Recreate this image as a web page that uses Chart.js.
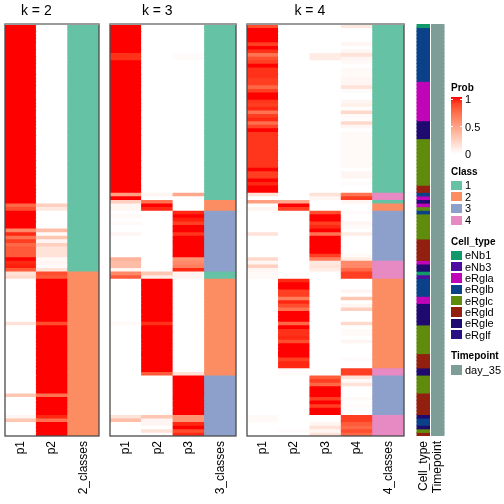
<!DOCTYPE html>
<html><head><meta charset="utf-8">
<script src="https://cdn.jsdelivr.net/npm/chart.js@4.4.1/dist/chart.umd.min.js"></script>
<style>
body{margin:0;background:#fff;width:504px;height:504px;overflow:hidden;position:relative;font-family:"Liberation Sans",Arial,Helvetica,sans-serif;}
canvas{position:absolute;top:0;}
.lt{position:absolute;font-size:10px;font-weight:bold;line-height:12px;color:#000;white-space:nowrap}
.lg{position:absolute;font-size:11px;line-height:12px;color:#000;white-space:nowrap}
.bx{position:absolute;width:11px}
</style></head><body>
<canvas id="c1" width="105" height="504" style="left:0"></canvas>
<canvas id="c2" width="137" height="504" style="left:105px"></canvas>
<canvas id="c3" width="168" height="504" style="left:242px"></canvas>
<canvas id="c4" width="44" height="504" style="left:410px"></canvas>
<div id="legend"></div>
<script>
// ---------- data (115 samples, top to bottom) ----------
const k2_labels = ['p1','p2','2_classes'];
const k3_labels = ['p1','p2','p3','3_classes'];
const k4_labels = ['p1','p2','p3','p4','4_classes'];
const annot_labels = ['Cell_type','Timepoint'];

const k2_p1 = [
1,1,1,1,1,1,1,1,1,1,
1,1,1,1,1,1,1,1,1,1,
1,1,1,1,1,1,1,1,1,1,
1,1,1,1,1,1,1,1,1,1,
1,1,1,1,1,1,1,1,1,1,
0.75,0.85,1,1,1,1,1,0.6,0.95,0.7,
0.9,0.75,0.8,0.8,0.8,1,0.95,0.97,0.8,0.15,
0.2,0,0,0,0,0,0,0,0,0,
0,0,0,0.15,0,0,0,0,0,0,
0,0,0,0,0,0,0,0,0,0,
0,0,0,0.3,0,0,0,0,0,0.05,
0.3,0,0,0,0];
const k2_p2 = [
0,0,0,0,0,0,0,0,0,0,
0,0,0,0,0,0,0,0,0,0,
0,0,0,0,0,0,0,0,0,0,
0,0,0,0,0,0,0,0,0,0,
0,0,0,0,0,0,0,0,0,0,
0.25,0.12,0,0,0,0,0,0.35,0.02,0.3,
0.05,0.25,0.15,0.15,0.15,0.03,0.05,0.02,0.15,0.85,
0.8,1,1,1,1,1,1,1,1,1,
1,1,1,0.85,1,1,1,1,1,1,
1,1,1,1,1,1,1,1,1,1,
1,1,1,0.7,1,1,1,1,1,0.95,
0.7,1,1,1,1];
const k2_class = [
1,1,1,1,1,1,1,1,1,1,
1,1,1,1,1,1,1,1,1,1,
1,1,1,1,1,1,1,1,1,1,
1,1,1,1,1,1,1,1,1,1,
1,1,1,1,1,1,1,1,1,1,
1,1,1,1,1,1,1,1,1,1,
1,1,1,1,1,1,1,1,1,2,
2,2,2,2,2,2,2,2,2,2,
2,2,2,2,2,2,2,2,2,2,
2,2,2,2,2,2,2,2,2,2,
2,2,2,2,2,2,2,2,2,2,
2,2,2,2,2];

const k3_p1 = [
1,1,1,1,1,1,1,1,0.93,0.93,
1,1,1,1,1,1,1,1,1,1,
1,1,1,1,1,1,1,1,1,1,
1,1,1,1,1,1,1,1,1,1,
1,1,1,1,1,1,1,0.5,1,0.25,
0.05,0.05,0,0.03,0,0.03,0,0,0.05,0,
0,0,0,0,0,0.4,0.35,0.35,0.05,0.6,
0.8,0,0,0,0,0,0,0,0,0,
0,0,0,0.03,0,0,0,0,0,0,
0,0,0,0,0,0,0,0,0,0,
0,0,0,0,0,0,0,0,0,0.15,
0.35,0,0,0,0];
const k3_p2 = [
0,0,0,0,0,0,0,0,0,0,
0,0,0,0,0,0,0,0,0,0,
0,0,0,0,0,0,0,0,0,0,
0,0,0,0,0,0,0,0,0,0,
0,0,0,0,0,0,0,0.05,0,0.7,
1,0.95,0,0,0,0,0,0,0,0,
0,0,0,0,0,0,0,0,0,0.3,
0.1,1,1,1,1,1,1,1,1,1,
1,1,1,0.93,1,1,1,1,1,1,
1,1,1,1,1,1,1,0.8,0,0,
0,0,0,0,0,0,0,0,0,0.3,
0.05,0.05,0,0.15,0];
const k3_p3 = [
0,0,0,0,0,0,0,0,0.02,0.02,
0,0,0,0,0,0,0,0,0,0,
0,0,0,0,0,0,0,0,0,0,
0,0,0,0,0,0,0,0,0,0,
0,0,0,0,0,0,0,0.45,0,0,
0,0,0.95,1,0.97,0.9,1,1,0.92,1,
1,1,1,1,1,0.55,0.6,0.65,0.95,0.05,
0.05,0,0,0,0,0,0,0,0,0,
0,0,0,0,0,0,0,0,0,0,
0,0,0,0,0,0,0,0.15,1,1,
1,1,1,1,1,1,1,1,1,0.55,
0.55,0.95,1,0.85,0.95];
const k3_class = [
1,1,1,1,1,1,1,1,1,1,
1,1,1,1,1,1,1,1,1,1,
1,1,1,1,1,1,1,1,1,1,
1,1,1,1,1,1,1,1,1,1,
1,1,1,1,1,1,1,1,1,2,
2,2,3,3,3,3,3,3,3,3,
3,3,3,3,3,3,3,3,3,1,
1,2,2,2,2,2,2,2,2,2,
2,2,2,2,2,2,2,2,2,2,
2,2,2,2,2,2,2,2,3,3,
3,3,3,3,3,3,3,3,3,3,
3,3,3,3,3];

const k4_p1 = [
0.85,1,1,1,1,0.9,1,0.93,0.7,0.85,
0.9,1,0.93,0.93,0.93,0.9,0.9,0.75,0.9,1,
1,0.92,0.9,0.95,0.7,0.9,0.95,0.72,0.88,1,
0.92,0.92,0.92,0.92,0.92,0.92,0.92,0.92,0.92,0.92,
1,0.9,0.9,1,0.95,1,1,0.15,0,0.5,
0,0.05,0,0,0,0,0,0,0.15,0,
0,0,0,0,0,0.2,0.05,0.25,0.05,0.03,
0.03,0,0,0,0,0,0,0,0,0,
0,0,0,0,0,0,0,0,0,0,
0,0,0,0,0,0,0,0,0,0,
0,0,0,0,0,0,0,0,0,0.03,
0.03,0,0,0,0];
const k4_p2 = [
0,0,0,0,0,0,0,0,0,0,
0,0,0,0,0,0,0,0,0,0,
0,0,0,0,0,0,0,0,0,0,
0,0,0,0,0,0,0,0,0,0,
0,0,0,0,0,0,0,0,0,0.45,
1,0.9,0,0,0,0,0,0,0,0,
0,0,0,0,0,0,0,0,0,0,
0,0.95,1,1,0.9,0.9,0.65,0.95,0.85,0.7,
1,1,1,0.75,1,0.93,0.93,0.95,0.85,1,
1,1,1,0.9,0.95,0.95,0.02,0.02,0,0,
0,0,0,0,0,0,0,0,0,0,
0,0,0,0.02,0];
const k4_p3 = [
0,0,0,0,0,0,0,0,0.1,0.1,
0,0,0,0,0,0,0,0,0,0,
0,0,0,0,0,0,0,0,0,0,
0,0,0,0,0,0,0,0,0,0,
0,0,0,0,0,0,0,0.15,0.05,0,
0,0,0.85,1,1,0.9,0.95,1,0.7,1,
1,1,1,1,0.9,0.65,0.12,0.15,0.1,0,
0,0,0,0,0,0,0,0,0,0,
0,0,0,0,0,0,0,0,0,0,
0,0,0,0,0,0,0,0,0.8,0.9,
0.75,1,1,1,0.9,1,0.9,1,1,0,
0,0.05,0.15,0.05,0.15];
const k4_p4 = [
0.12,0,0,0,0,0.05,0,0.05,0.15,0.05,
0.03,0,0.03,0.03,0.03,0.05,0.05,0.15,0.02,0,
0,0.05,0.08,0.01,0.2,0.03,0.01,0.2,0.05,0,
0.03,0.03,0.03,0.03,0.03,0.03,0.03,0.03,0.03,0.03,
0,0.05,0.05,0,0.02,0,0,0.7,0.9,0.05,
0,0,0.02,0,0,0.05,0.02,0,0.1,0,
0,0,0,0,0.03,0.1,0.6,0.6,0.75,0.9,
0.9,0,0,0,0.05,0,0.3,0,0.05,0.25,
0,0,0,0.2,0,0.03,0.03,0,0.05,0,
0,0,0,0.02,0,0,0.9,0.9,0.15,0.03,
0.15,0,0,0,0.03,0,0.02,0,0,0.9,
0.9,0.8,0.75,0.85,0.75];
const k4_class = [
1,1,1,1,1,1,1,1,1,1,
1,1,1,1,1,1,1,1,1,1,
1,1,1,1,1,1,1,1,1,1,
1,1,1,1,1,1,1,1,1,1,
1,1,1,1,1,1,1,4,4,1,
2,2,3,3,3,3,3,3,3,3,
3,3,3,3,3,3,4,4,4,4,
4,2,2,2,2,2,2,2,2,2,
2,2,2,2,2,2,2,2,2,2,
2,2,2,2,2,2,4,4,3,3,
3,3,3,3,3,3,3,3,3,4,
4,4,4,4,4];

const cell_type = [
'eNb1','eRglb','eRglb','eRglb','eRglb','eRglb','eRglb','eRglb','eRglb','eRglb',
'eRglb','eRglb','eRglb','eRglb','eRglb','eRglb','eRgla','eRgla','eRgla','eRgla',
'eRgla','eRgla','eRgla','eRgla','eRgla','eRgla','eRgla','eRgle','eRgle','eRgle',
'eRgle','eRgle','eRglc','eRglc','eRglc','eRglc','eRglc','eRglc','eRglc','eRglc',
'eRglc','eRglc','eRglc','eRglc','eRglc','eRgld','eRgld','eRglb','eRgla','eRgle',
'eRgla','eRglc','eRglb','eRglc','eRglc','eRglc','eRglc','eRglc','eRglc','eRglc',
'eRgld','eRgld','eRgld','eRgld','eRgld','eRgld','eRgla','eRgle','eRgle','eNb1',
'eNb3','eRglb','eRglb','eRglb','eRglb','eRglb','eRgla','eRgla','eRgle','eRgle',
'eRgle','eRgle','eRgle','eRgle','eRglc','eRglc','eRglc','eRglc','eRglc','eRglc',
'eRglc','eRglc','eRgld','eRgld','eRgld','eRgld','eRgle','eRgle','eRglc','eRglc',
'eRglc','eRglc','eRglc','eRgld','eRgld','eRgld','eRgld','eRgld','eRgld','eRgle',
'eRglb','eRglb','eRgle','eRglc','eRgld'];
const D = 'day_35';
const timepoint = [
D,D,D,D,D,D,D,D,D,D, D,D,D,D,D,D,D,D,D,D, D,D,D,D,D,D,D,D,D,D,
D,D,D,D,D,D,D,D,D,D, D,D,D,D,D,D,D,D,D,D, D,D,D,D,D,D,D,D,D,D,
D,D,D,D,D,D,D,D,D,D, D,D,D,D,D,D,D,D,D,D, D,D,D,D,D,D,D,D,D,D,
D,D,D,D,D,D,D,D,D,D, D,D,D,D,D,D,D,D,D,D, D,D,D,D,D];

const class_names = ['1','2','3','4'];
const class_colors = ['#66C2A5','#FC8D62','#8DA0CB','#E78AC3'];
const cell_names = ['eNb1','eNb3','eRgla','eRglb','eRglc','eRgld','eRgle','eRglf'];
const cell_colors = ['#11996A','#4E0DA0','#C005B8','#0B4189','#5F8C0D','#93200F','#1F0A70','#2A0E84'];
const time_names = ['day_35'];
const time_colors = ['#7D9E96'];
const prob_ticks = [1, 0.5, 0];

// ---------- helpers ----------
const FONT = '"Liberation Sans", Arial, Helvetica, sans-serif';
function probColor(v){
  const L = 100 + (53.2408-100)*v, a = 80.0925*v, b = 67.2032*v;
  const fy=(L+16)/116, fx=fy+a/500, fz=fy-b/200;
  const f3=t=>{const c=t*t*t; return c>0.008856?c:(t-16/116)/7.787;};
  const X=0.95047*f3(fx), Y=f3(fy), Z=1.08883*f3(fz);
  const r=3.2404542*X-1.5371385*Y-0.4985314*Z;
  const g=-0.9692660*X+1.8760108*Y+0.0415560*Z;
  const bl=0.0556434*X-0.2040259*Y+1.0572252*Z;
  const gam=c=>{c=Math.min(1,Math.max(0,c));return Math.round(255*(c<=0.0031308?12.92*c:1.055*Math.pow(c,1/2.4)-0.055));};
  return 'rgb('+gam(r)+','+gam(g)+','+gam(bl)+')';
}
const classCol = c => class_colors[c-1];
const cellCol = t => cell_colors[cell_names.indexOf(t)];
const timeCol = t => time_colors[time_names.indexOf(t)];

const panelDeco = {
  id:'panelDeco',
  afterDraw(chart, args, opts){
    if(!opts || !opts.show) return;
    const ctx = chart.ctx, a = chart.chartArea, xs = chart.scales.x;
    ctx.save();
    const w = a.right - a.left, h = a.bottom - a.top;
    ctx.strokeStyle = '#4a4a4a'; ctx.lineWidth = 1.3;
    ctx.strokeRect(a.left, a.top, w, h);
    ctx.strokeStyle = '#9a9a9a'; ctx.lineWidth = 2;
    ctx.beginPath(); ctx.moveTo(a.left, a.top); ctx.lineTo(a.right, a.top); ctx.stroke();
    const colW = w / xs.ticks.length;
    const cx = (a.left + (xs.getPixelForValue(opts.nProb-1) + colW/2)) / 2;
    ctx.fillStyle = '#000'; ctx.font = '14px ' + FONT;
    ctx.textAlign = 'center'; ctx.textBaseline = 'middle';
    ctx.fillText(opts.text, cx, 11);
    ctx.restore();
  }
};

function makeChart(id, labels, colorCols, padL, padR, deco, barPct){
  const n = colorCols[0].length;
  const datasets = [];
  for(let i=0;i<n;i++){
    datasets.push({
      data: labels.map(()=>[i, i+1]),
      backgroundColor: colorCols.map(col=>col[i]),
      borderWidth: 0,
      barPercentage: barPct,
      categoryPercentage: 1,
      grouped: false,
      inflateAmount: barPct === 1 ? 0.4 : 0.5
    });
  }
  return new Chart(document.getElementById(id), {
    type:'bar',
    data:{labels, datasets},
    plugins:[panelDeco],
    options:{
      responsive:false, animation:false, events:[],
      layout:{padding:{left:padL,right:padR,top:24,bottom:0}},
      plugins:{legend:{display:false},tooltip:{enabled:false},title:{display:false}, panelDeco:deco},
      scales:{
        x:{type:'category', offset:true,
           grid:{display:false, drawTicks:false}, border:{display:false},
           ticks:{autoSkip:false, maxRotation:90, minRotation:90, padding:5, color:'#000', font:{family:FONT, size:12}},
           afterFit(s){ s.height = 68; s.paddingLeft = 0; s.paddingRight = 0; }},
        y:{type:'linear', min:0, max:n, reverse:true, display:false}
      }
    }
  });
}

makeChart('c1', k2_labels, [k2_p1.map(probColor), k2_p2.map(probColor), k2_class.map(classCol)], 5, 6, {show:true, text:'k = 2', nProb:2}, 1);
makeChart('c2', k3_labels, [k3_p1.map(probColor), k3_p2.map(probColor), k3_p3.map(probColor), k3_class.map(classCol)], 5, 6, {show:true, text:'k = 3', nProb:3}, 1);
makeChart('c3', k4_labels, [k4_p1.map(probColor), k4_p2.map(probColor), k4_p3.map(probColor), k4_p4.map(probColor), k4_class.map(classCol)], 5, 6, {show:true, text:'k = 4', nProb:4}, 1);
makeChart('c4', annot_labels, [cell_type.map(cellCol), timepoint.map(timeCol)], 6, 9, {show:false}, 0.86);

// ---------- legends (HTML text) ----------
const lg = document.getElementById('legend');
function add(cls, style, text){ const d=document.createElement('div'); d.className=cls; d.setAttribute('style',style); if(text!==undefined) d.textContent=text; lg.appendChild(d); return d; }
const LX = 451, TX = 465;
add('lt', `left:${LX}px;top:82px`, 'Prob');
const stops = [];
for(let s=0;s<=10;s++){ stops.push(probColor(1 - s/10) + ' ' + (s*10) + '%'); }
add('bx', `left:${LX}px;top:97px;height:57px;background:linear-gradient(to bottom, ${stops.join(',')})`);
prob_ticks.forEach(v=>{
  const y = 154 - v*55;
  if(v>0){
    add('bx', `left:${LX}px;top:${y-0.5}px;width:2px;height:1px;background:#fff`);
    add('bx', `left:${LX+9}px;top:${y-0.5}px;width:2px;height:1px;background:#fff`);
  }
  add('lg', `left:${TX}px;top:${y-6}px`, String(v));
});
add('lt', `left:${LX}px;top:166px`, 'Class');
class_names.forEach((c,i)=>{
  const t = 180.5 + i*11.7;
  add('bx', `left:${LX}px;top:${t}px;height:9px;background:${class_colors[i]}`);
  add('lg', `left:${TX}px;top:${t-1.5}px`, c);
});
add('lt', `left:${LX}px;top:235.5px`, 'Cell_type');
cell_names.forEach((c,i)=>{
  const t = 250.7 + i*11.33;
  add('bx', `left:${LX}px;top:${t}px;height:9.3px;background:${cell_colors[i]}`);
  add('lg', `left:${TX}px;top:${t-1.4}px`, c);
});
add('lt', `left:${LX}px;top:350px`, 'Timepoint');
time_names.forEach((c,i)=>{
  const t = 365 + i*11.33;
  add('bx', `left:${LX}px;top:${t}px;height:10px;background:${time_colors[i]}`);
  add('lg', `left:${TX}px;top:${t-1}px`, c);
});
</script>
</body></html>
